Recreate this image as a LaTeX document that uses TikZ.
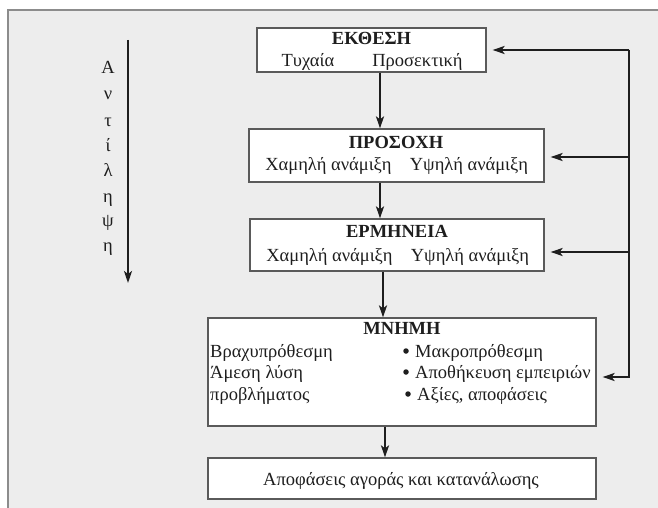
\documentclass[tikz,border=0pt]{standalone}
\usepackage{fontspec}
\setmainfont{Liberation Serif}
\usetikzlibrary{arrows.meta}
\definecolor{bg}{HTML}{EDEDED}
\definecolor{frame}{HTML}{8C8C8C}
\definecolor{boxline}{HTML}{5A5A5A}
\definecolor{ink}{HTML}{1E1E1E}
\tikzset{
  stagebox/.style={draw=boxline, line width=1.2pt, fill=white, inner sep=0pt},
  txt/.style={inner sep=0pt, anchor=base, text=ink, font=\fontsize{18.5}{22}\selectfont},
  ttl/.style={txt, font=\fontsize{18.5}{22}\selectfont\bfseries},
  txtw/.style={txt, anchor=base west},
  dot/.style={circle, fill=ink, inner sep=0pt, minimum size=5.5pt},
  arr/.style={draw=ink, line width=2.1pt, -{Stealth[length=12pt,width=8pt,inset=3pt]}},
}
\begin{document}
\begin{tikzpicture}[x=1pt,y=-1pt]
\useasboundingbox (0,0) rectangle (658,508);
\fill[bg] (8,10) rectangle (658,508);
\draw[frame, line width=1.5pt] (8,508) -- (8,10) -- (658,10);

% boxes
\node[stagebox, minimum width=229pt, minimum height=44pt] (b1) at (371.5,50) {};
\node[stagebox, minimum width=295pt, minimum height=53pt] (b2) at (396.5,155.5) {};
\node[stagebox, minimum width=294pt, minimum height=52pt] (b3) at (397,245) {};
\node[stagebox, minimum width=388pt, minimum height=108pt] (b4) at (402,372) {};
\node[stagebox, minimum width=388pt, minimum height=41pt] (b5) at (402,478.5) {};

% texts
\node[ttl] (t1) at (371.5,45) {ΕΚΘΕΣΗ};
\node[txt] (t1a) at (308,67) {Τυχαία};
\node[txt] (t1b) at (417.5,67) {Προσεκτική};

\node[ttl] (t2) at (396,148) {ΠΡΟΣΟΧΗ};
\node[txt] (t2a) at (328.5,170) {Χαμηλή ανάμιξη};
\node[txt] (t2b) at (469,170) {Υψηλή ανάμιξη};

\node[ttl] (t3) at (397,237) {ΕΡΜΗΝΕΙΑ};
\node[txt] (t3a) at (329.5,261) {Χαμηλή ανάμιξη};
\node[txt] (t3b) at (470,261) {Υψηλή ανάμιξη};

\node[ttl] (t4) at (402,334) {ΜΝΗΜΗ};
\node[txtw] (t4a) at (210,357) {Βραχυπρόθεσμη};
\node[txtw] (t4b) at (210,378) {Άμεση λύση};
\node[txtw] (t4c) at (210,400) {προβλήματος};
\node[dot] (d1) at (406,351) {};
\node[dot] (d2) at (406,372) {};
\node[dot] (d3) at (408,394) {};
\node[txtw] (t4d) at (415,357) {Μακροπρόθεσμη};
\node[txtw] (t4e) at (415,378) {Αποθήκευση εμπειριών};
\node[txtw] (t4f) at (417,400) {Αξίες, αποφάσεις};

\node[txt] (t5) at (401,485) {Αποφάσεις αγοράς και κατανάλωσης};

% left label
\node[txt] (l1) at (108,74) {Α};
\node[txt] (l2) at (108,100) {ν};
\node[txt] (l3) at (108,126) {τ};
\node[txt] (l4) at (108,151) {ί};
\node[txt] (l5) at (108,176) {λ};
\node[txt] (l6) at (108,202) {η};
\node[txt] (l7) at (108,226) {ψ};
\node[txt] (l8) at (108,251) {η};
\coordinate (la) at (128,40);
\coordinate (lb) at (128,283);
\draw[arr] (la) -- (lb);

% down arrows
\coordinate (x1) at (380,0);
\coordinate (x3) at (383,0);
\coordinate (x4) at (385,0);
\draw[arr] (b1.south -| x1) -- (b2.north -| x1);
\draw[arr] (b2.south -| x1) -- (b3.north -| x1);
\draw[arr] (b3.south -| x3) -- (b4.north -| x3);
\draw[arr] (b4.south -| x4) -- (b5.north -| x4);

% feedback
\coordinate (f1) at (629,50);
\coordinate (f2) at (629,157);
\coordinate (f3) at (629,252);
\coordinate (f4) at (629,377);
\draw[arr, line join=miter] (f1) -- (f4) -- ([xshift=6pt]b4.east |- f4);
\draw[arr] (f1) -- ([xshift=6pt]b1.east |- f1);
\draw[arr] (f2) -- ([xshift=6pt]b2.east |- f2);
\draw[arr] (f3) -- ([xshift=6pt]b3.east |- f3);
\end{tikzpicture}
\end{document}
